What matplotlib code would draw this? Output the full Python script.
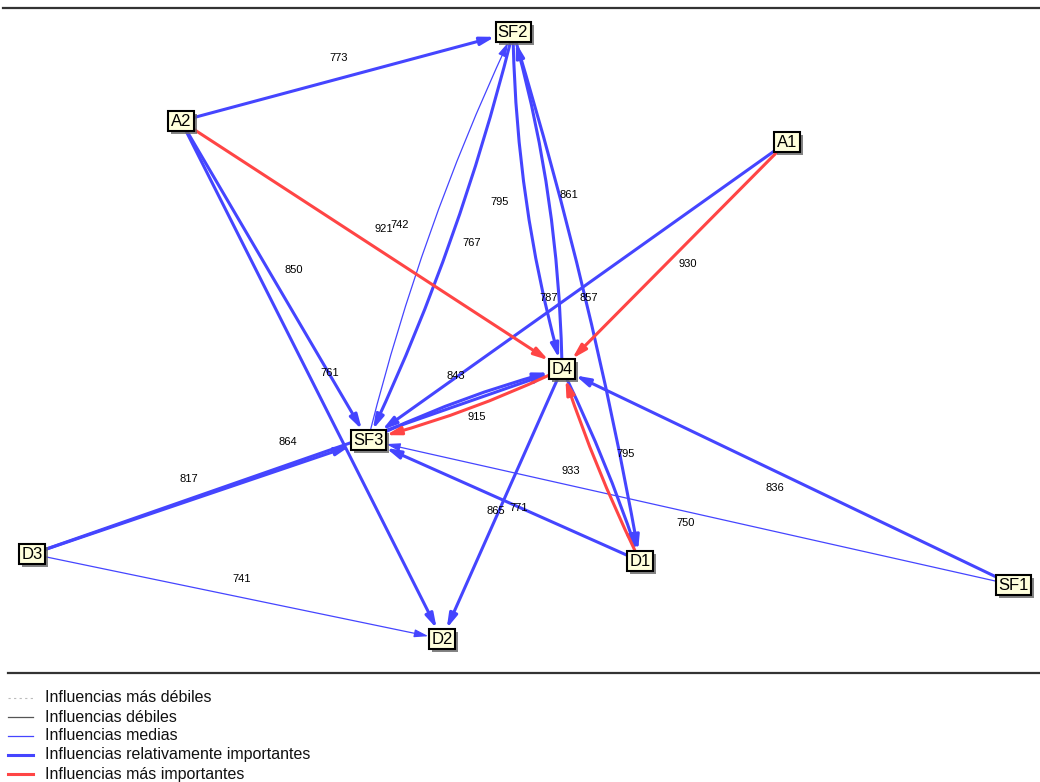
import numpy as np
import matplotlib.pyplot as plt
from matplotlib.patches import Rectangle, FancyArrowPatch

plt.rcParams['font.family'] = ['Liberation Sans', 'DejaVu Sans']

# variables of the influence map
nodes = ['SF2', 'A2', 'A1', 'D4', 'SF3', 'D3', 'D1', 'SF1', 'D2']

# influences: source -> target, value, level (2 medias, 3 relativamente importantes, 4 mas importantes)
sources = ['A2', 'A2', 'A2', 'A2', 'SF3', 'SF2', 'SF2', 'D4', 'SF2', 'A1', 'A1',
           'SF3', 'D4', 'D3', 'D3', 'D1', 'D4', 'SF1', 'D4', 'D1', 'SF1', 'D3']
targets = ['SF2', 'D4', 'SF3', 'D2', 'SF2', 'SF3', 'D4', 'SF2', 'D1', 'SF3', 'D4',
           'D4', 'SF3', 'SF3', 'D4', 'D4', 'D1', 'D4', 'D2', 'SF3', 'SF3', 'D2']
values = [773, 921, 850, 761, 742, 767, 795, 861, 787, 857, 930,
          843, 915, 817, 864, 933, 795, 836, 865, 771, 750, 741]
levels = [3, 4, 3, 3, 2, 3, 3, 3, 3, 3, 4,
          3, 4, 3, 3, 4, 3, 3, 3, 3, 2, 2]

legend_labels = ['Influencias más débiles', 'Influencias débiles', 'Influencias medias',
                 'Influencias relativamente importantes', 'Influencias más importantes']

# layout (pixel coordinates of the map)
node_xy = {'SF2': (513, 32), 'A2': (181, 121), 'A1': (787, 142), 'D4': (562, 369),
           'SF3': (368, 440), 'D3': (32, 554), 'D1': (640, 561), 'SF1': (1013, 585),
           'D2': (442, 639)}
label_xy = [(339, 58), (384, 229), (294, 270), (330, 373), (400, 225), (472, 243),
            (500, 202), (569, 195), (549, 298), (589, 298), (688, 264), (456, 376),
            (477, 417), (189, 479), (288, 442), (571, 471), (626, 454), (775, 488),
            (496, 511), (519, 508), (686, 523), (242, 579)]
bend = {('SF3', 'SF2'): -0.05, ('SF2', 'SF3'): -0.05,
        ('SF2', 'D4'): 0.065, ('D4', 'SF2'): 0.065,
        ('SF3', 'D4'): -0.05, ('D4', 'SF3'): -0.05,
        ('D1', 'D4'): -0.035, ('D4', 'D1'): -0.035,
        ('SF2', 'D1'): -0.03}

blue = '#4545ff'
red = '#ff4545'
style = {1: dict(color='#bbbbbb', lw=0.8, ls=(0, (2, 3))),
         2: dict(color=blue, lw=0.9, ls='-'),
         3: dict(color=blue, lw=2.2, ls='-'),
         4: dict(color=red, lw=2.2, ls='-')}

fig = plt.figure(figsize=(10.4, 7.82), dpi=100)
ax = fig.add_axes([0, 0, 1, 1])
ax.set_xlim(0, 1040)
ax.set_ylim(782, 0)
ax.axis('off')

# node boxes
boxes = {}
for name in nodes:
    x, y = node_xy[name]
    w, h = 8 + 9 * len(name), 20
    shadow = Rectangle((x - w / 2 + 3, y - h / 2 + 3), w, h, facecolor='#666666',
                       edgecolor='none', alpha=0.8, zorder=5)
    box = Rectangle((x - w / 2, y - h / 2), w, h, facecolor='#ffffdc',
                    edgecolor='black', lw=1.5, zorder=6)
    ax.add_patch(shadow)
    ax.add_patch(box)
    boxes[name] = box
    ax.text(x, y + 0.5, name, ha='center', va='center', fontsize=12, zorder=7)

# influence arrows
for i in range(len(values)):
    s, t = sources[i], targets[i]
    st = style[levels[i]]
    rad = bend.get((s, t), 0.0)
    arr = FancyArrowPatch(node_xy[s], node_xy[t], patchA=boxes[s], patchB=boxes[t],
                          shrinkA=1, shrinkB=1,
                          connectionstyle='arc3,rad=%.3f' % rad,
                          arrowstyle='-|>,head_length=0.6,head_width=0.17',
                          mutation_scale=14, color=st['color'], lw=st['lw'],
                          zorder=3 if levels[i] == 4 else 2)
    ax.add_patch(arr)
    lx, ly = label_xy[i]
    ax.text(lx, ly, str(values[i]), ha='center', va='center', fontsize=8,
            color='black', zorder=4)

# separators
ax.plot([3, 1040], [8, 8], color='#333333', lw=1.6)
ax.plot([8, 1040], [673, 673], color='#333333', lw=1.6)

# legend
legend_styles = [style[1], dict(color='#555555', lw=0.9, ls='-'), style[2], style[3], style[4]]
for k, lab in enumerate(legend_labels):
    y = 698 + k * 19
    st = legend_styles[k]
    ax.plot([8, 33], [y, y], color=st['color'], lw=st['lw'], ls=st['ls'])
    ax.text(45, y, lab, ha='left', va='center', fontsize=11.5, color='#111111')

fig.savefig('out.png', dpi=100)
